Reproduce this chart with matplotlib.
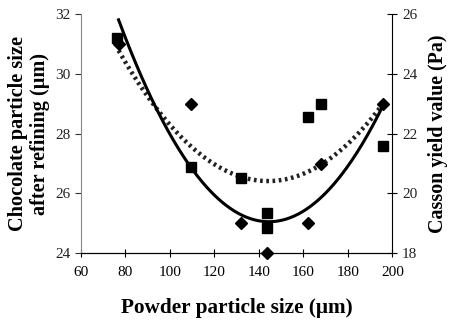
import numpy as np
import matplotlib
matplotlib.use("Agg")
import matplotlib.pyplot as plt

plt.rcParams['font.family'] = ['Liberation Serif', 'DejaVu Serif']

# -----------------------------
# Data
# -----------------------------
# chocolate particle size after refining (left axis, diamonds)
diam_x = [77, 109.5, 132, 143.5, 162, 168, 196]
diam_y = [31.0, 29.0, 25.0, 24.0, 25.0, 27.0, 29.0]

# Casson yield value (right axis, squares)
sq_x = [76.5, 109.5, 132, 143.5, 143.5, 162, 168, 196]
sq_y = [25.2, 20.9, 20.5, 19.35, 18.85, 22.55, 23.0, 21.6]

# trend lines, points
dot_cx = [77, 93, 132, 143, 158.5, 168, 196]
dot_cy = [30.7, 29.1, 26.45, 26.35, 26.7, 27.0, 29.0]
sol_cx = [77, 93, 113.6, 143.5, 175, 196]
sol_cy = [25.74, 23.13, 20.4, 19.03, 20.46, 22.96]

x_ticks = [60, 80, 100, 120, 140, 160, 180, 200]
left_ticks = [24, 26, 28, 30, 32]
right_ticks = [18, 20, 22, 24, 26]

# -----------------------------
# Figure
# -----------------------------
fig = plt.figure(figsize=(4.51, 3.28), dpi=100)
ax = fig.add_axes([0.179, 0.228, 0.691, 0.729])
ax2 = ax.twinx()

xs = np.linspace(min(dot_cx), max(dot_cx), 200)
ax.plot(xs, np.polyval(np.polyfit(dot_cx, dot_cy, 2), xs), color='#222222',
        linestyle=(0, (0.6, 0.8)), linewidth=3.2)
ax.plot(diam_x, diam_y, linestyle='none', marker='D', ms=6, color='black', clip_on=False)

xs2 = np.linspace(min(sol_cx), max(sol_cx), 200)
ax2.plot(xs2, np.polyval(np.polyfit(sol_cx, sol_cy, 2), xs2), color='black', linewidth=2.2)
ax2.plot(sq_x, sq_y, linestyle='none', marker='s', ms=7.5, color='black', clip_on=False)

ax.set_xlim(60, 200)
ax.set_ylim(24, 32)
ax2.set_ylim(18, 26)
ax.set_xticks(x_ticks)
ax.set_yticks(left_ticks)
ax2.set_yticks(right_ticks)

for a in (ax, ax2):
    a.spines['top'].set_visible(False)
ax.spines['left'].set_color('#888888')
ax2.spines['left'].set_visible(False)
ax.spines['right'].set_visible(False)
ax2.spines['right'].set_color('black')

ax.tick_params(axis='x', direction='inout', length=6, labelsize=11, pad=6, colors='black')
ax.tick_params(axis='y', direction='out', length=4, labelsize=11, colors='#333333', labelcolor='#222222')
ax2.tick_params(axis='y', direction='inout', length=7, labelsize=11, labelcolor='#222222')

ax.set_xlabel('Powder particle size (\u03bcm)', fontsize=15.3, fontweight='bold', labelpad=14)
ax.set_ylabel('Chocolate particle size\nafter refining (\u03bcm)', fontsize=14.6,
              fontweight='bold', linespacing=1.1, labelpad=4)
ax2.set_ylabel('Casson yield value (Pa)', fontsize=14.4, fontweight='bold', labelpad=8)

fig.savefig('out.png', dpi=100)
